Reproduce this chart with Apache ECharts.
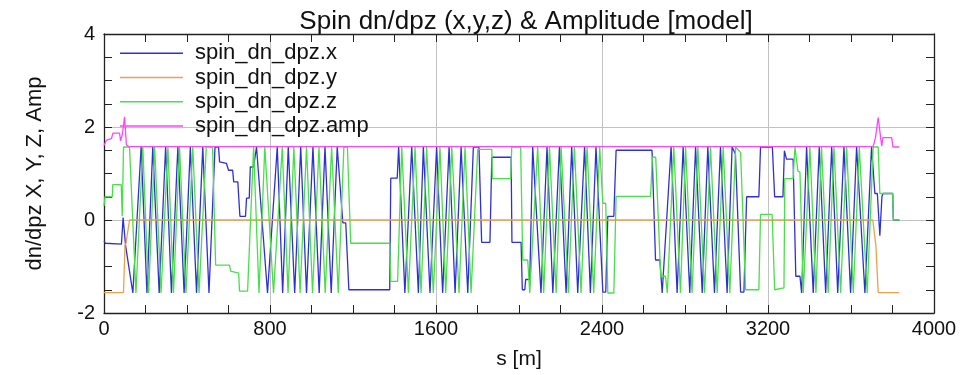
<!DOCTYPE html>
<html><head><meta charset="utf-8">
<script src="https://cdn.jsdelivr.net/npm/echarts@6/dist/echarts.min.js"></script>
<style>html,body{margin:0;padding:0;background:#fff}#c{width:980px;height:375px}</style>
</head><body><div id="c"></div>
<script>
const titleText = 'Spin dn/dpz (x,y,z) & Amplitude [model]';
const seriesNames = ['spin_dn_dpz.x', 'spin_dn_dpz.y', 'spin_dn_dpz.z', 'spin_dn_dpz.amp'];
const xName = 's [m]';
const yName = 'dn/dpz X, Y, Z, Amp';
const xTicks = [0, 800, 1600, 2400, 3200, 4000];
const yTicks = [-2, 0, 2, 4];

// [s (m), value]
const dnX = [[0,-0.45],[7,-0.50],[84,-0.52],[92,0.05],[104,-0.55],[111,-0.55],[139,-1.57],[179,1.57],[207,-1.57],[235,1.57],[266,-1.57],[297,1.57],[325,-1.57],[356,1.57],[386,-1.57],[416,1.57],[446,-1.57],[476,1.57],[506,-1.57],[535,1.57],[552,1.57],[557,1.25],[590,1.22],[600,1.07],[620,1.07],[625,0.82],[645,0.82],[650,0.44],[655,0.08],[682,0.08],[687,0.47],[700,0.47],[705,1.14],[721,1.14],[735,1.57],[788,-1.57],[835,1.57],[861,-1.57],[888,1.57],[919,-1.57],[948,1.57],[976,-1.57],[1007,1.57],[1037,-1.57],[1065,1.57],[1095,-1.57],[1124,1.57],[1151,-0.06],[1165,-0.06],[1180,-1.50],[1377,-1.50],[1382,0.90],[1413,0.90],[1420,1.57],[1450,-1.57],[1483,1.57],[1515,-1.57],[1539,1.57],[1571,-1.57],[1603,1.57],[1632,-1.57],[1663,1.57],[1692,-1.57],[1721,1.57],[1753,-1.57],[1780,1.57],[1807,1.57],[1820,-0.48],[1860,-0.48],[1869,1.35],[1962,1.35],[1966,-0.48],[2010,-0.48],[2016,-1.50],[2028,-1.50],[2032,-1.28],[2052,-1.28],[2066,1.57],[2106,-1.57],[2135,1.57],[2163,-1.57],[2195,1.57],[2227,-1.57],[2254,1.57],[2283,-1.57],[2316,1.57],[2344,-1.57],[2371,1.57],[2404,-1.55],[2418,-1.55],[2428,0.08],[2457,0.08],[2468,1.50],[2641,1.50],[2658,-0.86],[2679,-0.86],[2690,-1.57],[2733,1.57],[2762,-1.57],[2791,1.57],[2823,-1.57],[2851,1.57],[2883,-1.57],[2910,1.57],[2942,-1.57],[2971,1.57],[3003,-1.57],[3027,1.57],[3043,1.42],[3068,-1.55],[3084,-1.55],[3097,0.50],[3156,0.50],[3164,1.57],[3221,1.57],[3232,0.50],[3272,0.50],[3279,1.49],[3289,1.31],[3321,1.31],[3334,-1.21],[3354,-1.21],[3362,-1.57],[3386,1.57],[3418,-1.57],[3447,1.57],[3478,-1.57],[3507,1.57],[3536,-1.57],[3566,1.57],[3598,-1.57],[3627,1.57],[3667,-1.57],[3699,1.57],[3715,0.57],[3727,0.57],[3739,-0.34],[3749,0.50],[3754,0.57],[3801,0.57],[3804,0.0],[3833,0.0]];

const dnY = [[0,-1.56],[94,-1.56],[101,-0.55],[106,-0.50],[123,0.0],[3705,0.0],[3720,-0.55],[3731,-1.56],[3833,-1.56]];

const dnZ = [[0,0.30],[5,0.50],[40,0.50],[42,0.76],[83,0.76],[88,0.08],[94,1.57],[123,1.57],[154,-1.57],[187,1.57],[215,-1.57],[244,1.57],[275,-1.57],[308,1.57],[335,-1.57],[364,1.57],[395,-1.57],[428,1.57],[458,-1.57],[493,1.57],[523,1.57],[538,-0.97],[605,-0.97],[610,-1.10],[649,-1.14],[653,-1.53],[692,-1.53],[721,1.57],[747,-1.57],[775,1.57],[817,-1.57],[859,1.57],[887,-1.57],[915,1.57],[945,-1.57],[976,1.57],[1005,-1.57],[1036,1.57],[1066,-1.57],[1097,1.57],[1129,-1.57],[1156,1.57],[1173,1.57],[1189,-0.50],[1377,-0.50],[1382,-1.32],[1415,-1.32],[1435,1.57],[1467,-1.57],[1499,1.57],[1528,-1.57],[1555,1.57],[1587,-1.57],[1619,1.57],[1647,-1.57],[1676,1.57],[1711,-1.57],[1740,1.57],[1769,-1.57],[1801,1.52],[1869,1.52],[1872,0.89],[1960,0.89],[1965,1.57],[2008,1.57],[2018,-0.86],[2042,-0.86],[2052,-1.57],[2090,1.57],[2119,-1.57],[2147,1.57],[2179,-1.57],[2203,1.57],[2238,-1.57],[2267,1.57],[2299,-1.57],[2328,1.57],[2360,-1.57],[2389,1.57],[2404,0.36],[2418,0.36],[2428,-1.57],[2457,-1.57],[2468,0.51],[2634,0.51],[2643,1.35],[2659,1.35],[2683,-1.21],[2706,-1.21],[2715,-1.57],[2746,1.57],[2778,-1.57],[2803,1.57],[2834,-1.57],[2862,1.57],[2894,-1.57],[2923,1.57],[2955,-1.57],[2984,1.57],[3016,-1.57],[3044,1.57],[3068,1.45],[3092,-1.50],[3156,-1.50],[3164,0.12],[3220,0.12],[3232,-1.50],[3277,-1.46],[3281,0.89],[3321,0.89],[3330,1.57],[3344,1.05],[3354,1.03],[3370,-1.57],[3402,1.57],[3431,-1.57],[3458,1.57],[3490,-1.57],[3518,1.57],[3550,-1.57],[3579,1.57],[3611,-1.57],[3640,1.57],[3678,-1.57],[3707,1.57],[3731,1.57],[3739,0.57],[3801,0.57],[3804,0.0],[3833,0.0]];

const dnAmp = [[0,1.60],[12,1.72],[36,1.75],[43,1.87],[75,1.87],[80,1.70],[89,1.85],[99,2.22],[108,1.62],[118,1.58],[3707,1.58],[3718,1.77],[3731,2.20],[3748,1.59],[3754,1.77],[3796,1.77],[3802,1.57],[3833,1.57]];

const colors = ['#2f2fd6', '#f0a04b', '#48e048', '#ff45ff'];
const FONT = '"Liberation Sans", Arial, sans-serif';
const frame = {show: true, onZero: false, lineStyle: {color: '#222', width: 1.3}};
const tick = {show: true, inside: true, length: 8, lineStyle: {color: '#222', width: 1}};
const minor = {show: true, splitNumber: 4, length: 8, lineStyle: {color: '#222', width: 1}};
const grid = {color: '#c2c2c2', width: 1};
const plain = v => String(v);

const chart = echarts.init(document.getElementById('c'), null, {renderer: 'canvas'});
chart.setOption({
  animation: false,
  backgroundColor: '#fff',
  title: {text: titleText, left: 521, top: 4, textAlign: 'center',
    textStyle: {fontSize: 26, fontWeight: 'normal', color: '#111', fontFamily: FONT}},
  legend: {orient: 'vertical', left: 115, top: 36, itemWidth: 63, itemHeight: 1.5, itemGap: 0,
    icon: 'rect', data: seriesNames,
    textStyle: {fontSize: 22, color: '#111', fontFamily: FONT, lineHeight: 24.3, padding: [0, 0, 0, 7]}},
  grid: {left: 104, right: 46, top: 34, bottom: 57, containLabel: false},
  xAxis: [
    {type: 'value', min: xTicks[0], max: xTicks[xTicks.length - 1], interval: xTicks[1] - xTicks[0], position: 'bottom',
     axisLine: frame, axisTick: tick, minorTick: minor,
     axisLabel: {fontSize: 20, color: '#111', margin: 6, fontFamily: FONT, formatter: plain},
     splitLine: {show: true, lineStyle: grid},
     name: xName, nameLocation: 'middle', nameGap: 36,
     nameTextStyle: {fontSize: 21, color: '#111', fontFamily: FONT}},
    {type: 'value', min: xTicks[0], max: xTicks[xTicks.length - 1], interval: xTicks[1] - xTicks[0], position: 'top',
     axisLine: frame, axisTick: tick, minorTick: minor, axisLabel: {show: false}, splitLine: {show: false}}
  ],
  yAxis: [
    {type: 'value', min: yTicks[0], max: yTicks[yTicks.length - 1], interval: yTicks[1] - yTicks[0], position: 'left',
     axisLine: frame, axisTick: tick, minorTick: minor,
     axisLabel: {fontSize: 20, color: '#111', margin: 9, fontFamily: FONT, formatter: plain},
     splitLine: {show: true, lineStyle: grid},
     name: yName, nameLocation: 'middle', nameGap: 58, nameRotate: 90,
     nameTextStyle: {fontSize: 22, color: '#111', fontFamily: FONT}},
    {type: 'value', min: yTicks[0], max: yTicks[yTicks.length - 1], interval: yTicks[1] - yTicks[0], position: 'right',
     axisLine: frame, axisTick: tick, minorTick: minor, axisLabel: {show: false}, splitLine: {show: false}}
  ],
  series: [dnX, dnY, dnZ, dnAmp].map((d, i) => ({
    name: seriesNames[i], type: 'line', data: d, xAxisIndex: 0, yAxisIndex: 0,
    symbol: 'none', showSymbol: false, color: colors[i],
    lineStyle: {color: colors[i], width: 1.3}
  }))
});
</script></body></html>
